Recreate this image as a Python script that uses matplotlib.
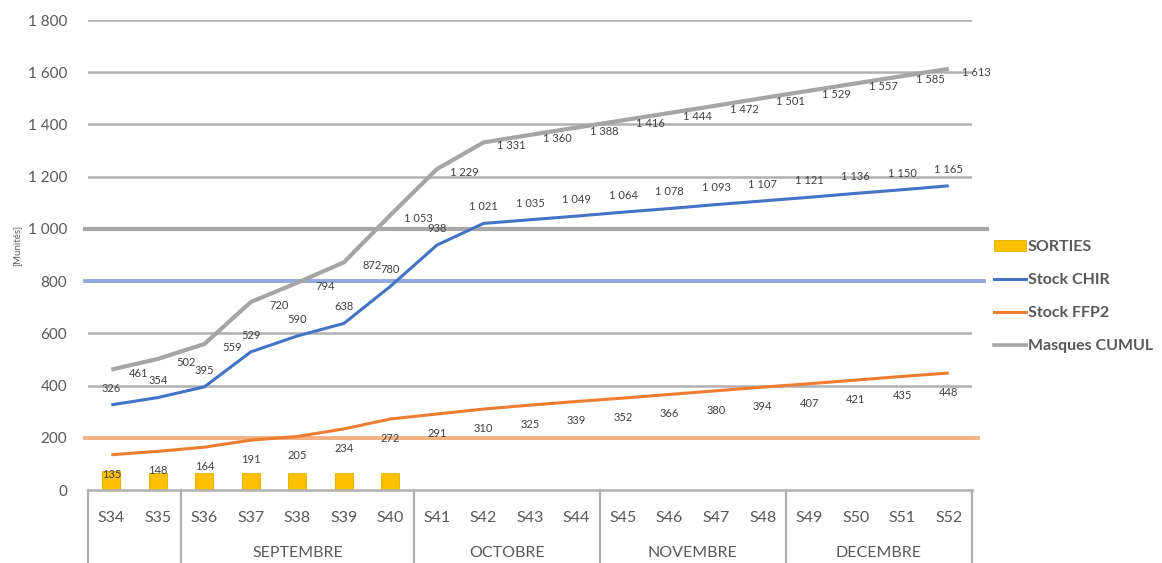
import matplotlib
matplotlib.use("Agg")
import matplotlib.pyplot as plt
import matplotlib.transforms as mtransforms
from matplotlib.patches import Patch
from matplotlib.lines import Line2D
import numpy as np

plt.rcParams['font.family'] = ['Lato', 'DejaVu Sans']

# --- data -------------------------------------------------------------
weeks = ["S34", "S35", "S36", "S37", "S38", "S39", "S40", "S41", "S42", "S43",
         "S44", "S45", "S46", "S47", "S48", "S49", "S50", "S51", "S52"]
months = ["", "SEPTEMBRE", "OCTOBRE", "NOVEMBRE", "DECEMBRE"]
month_sizes = [2, 5, 4, 4, 4]

sorties = [74, 64, 64, 64, 64, 64, 64]
stock_chir = [326, 354, 395, 529, 590, 638, 780, 938, 1021, 1035, 1049, 1064,
              1078, 1093, 1107, 1121, 1136, 1150, 1165]
stock_ffp2 = [135, 148, 164, 191, 205, 234, 272, 291, 310, 325, 339, 352,
              366, 380, 394, 407, 421, 435, 448]
masques_cumul = [461, 502, 559, 720, 794, 872, 1053, 1229, 1331, 1360, 1388,
                 1416, 1444, 1472, 1501, 1529, 1557, 1585, 1613]

seuil_cumul = 1000
seuil_chir = 800
seuil_ffp2 = 200

yticks = [0, 200, 400, 600, 800, 1000, 1200, 1400, 1600, 1800]

# --- colours ------------------------------------------------------------
C_BLUE = "#4472C4"
C_ORANGE = "#ED7D31"
C_GRAY = "#A5A5A5"
C_YELLOW = "#FFC000"
C_TEXT = "#595959"
C_LABEL = "#404040"
C_GRID = "#B0B0B0"


def fmt(v):
    return f"{v:,}".replace(",", " ")


fig = plt.figure(figsize=(11.62, 5.63), dpi=100)
W, H = 1162, 563
ax = fig.add_axes([88 / W, 73 / H, (972 - 88) / W, 470 / H])

x = np.arange(len(weeks))
ax.set_xlim(-0.5, len(weeks) - 0.5)
ax.set_ylim(0, 1800)

# horizontal grid
for t in yticks[1:]:
    ax.axhline(t, color=C_GRID, lw=1.8, zorder=0)

# threshold lines, running slightly past the plot area
trans_h = mtransforms.blended_transform_factory(ax.transAxes, ax.transData)
ax.plot([-0.003, 1.017], [seuil_cumul] * 2, color="#A8A8A8", lw=3.0,
        transform=trans_h, clip_on=False, zorder=1)
ax.plot([-0.003, 1.014], [seuil_chir] * 2, color="#8FAADC", lw=2.8,
        transform=trans_h, clip_on=False, zorder=1)
ax.plot([-0.003, 1.007], [seuil_ffp2] * 2, color="#F4B183", lw=2.8,
        transform=trans_h, clip_on=False, zorder=1)

# bars
ax.bar(x[:len(sorties)], sorties, width=0.39, color=C_YELLOW,
       edgecolor="#E3AC00", linewidth=0.6, zorder=2)

# lines
ax.plot(x, masques_cumul, color=C_GRAY, lw=3.0, zorder=3,
        solid_capstyle="butt")
ax.plot(x, stock_chir, color=C_BLUE, lw=2.2, zorder=4, solid_capstyle="butt")
ax.plot(x, stock_ffp2, color=C_ORANGE, lw=2.2, zorder=4,
        solid_capstyle="butt")

# data labels
lab_kw = dict(fontsize=8, color=C_LABEL, ha="center", va="center",
              textcoords="offset points", zorder=6)
for xi, v in zip(x, stock_chir):
    ax.annotate(fmt(v), (xi, v), xytext=(0, 12), **lab_kw)
for xi, v in zip(x, stock_ffp2):
    ax.annotate(fmt(v), (xi, v), xytext=(0, -14), **lab_kw)
for xi, v in zip(x, masques_cumul):
    ax.annotate(fmt(v), (xi, v), xytext=(20, -2.5), **lab_kw)

# axes styling
for s in ["top", "right", "left"]:
    ax.spines[s].set_visible(False)
ax.spines["bottom"].set_color(C_GRID)
ax.spines["bottom"].set_linewidth(1.8)
ax.set_yticks(yticks)
ax.set_yticklabels([fmt(t) for t in yticks], fontsize=11, color=C_TEXT)
ax.tick_params(axis="y", length=0, pad=15)
ax.set_xticks([])

# two-level category axis (weeks / months)
trans_x = mtransforms.blended_transform_factory(ax.transData, ax.transAxes)
bottom = -73 / 470
for xi, w in zip(x, weeks):
    ax.text(xi, -0.06, w, transform=trans_x, ha="center", va="center",
            fontsize=11.5, color=C_TEXT, clip_on=False)

edges = np.concatenate([[0], np.cumsum(month_sizes)]) - 0.5
for e in edges:
    ax.plot([e, e], [0, bottom], transform=trans_x, color=C_GRID, lw=1.6,
            clip_on=False, zorder=1)
for i, m in enumerate(months):
    if m:
        ctr = (edges[i] + edges[i + 1]) / 2
        ax.text(ctr, -0.134, m, transform=trans_x, ha="center", va="center",
                fontsize=11.5, color=C_TEXT, clip_on=False)

# axis title
fig.text(17 / W, 1 - 245 / H, "[Munités]", rotation=90, ha="center",
         va="center", fontsize=7, color=C_TEXT)

# legend
handles = [
    Patch(facecolor=C_YELLOW, edgecolor="#E3AC00", linewidth=0.6),
    Line2D([], [], color=C_BLUE, lw=2.2),
    Line2D([], [], color=C_ORANGE, lw=2.2),
    Line2D([], [], color=C_GRAY, lw=2.6),
]
labels = ["SORTIES", "Stock CHIR", "Stock FFP2", "Masques CUMUL"]
leg = fig.legend(handles, labels, loc="upper left",
                 bbox_to_anchor=(994 / W, 1 - 240 / H), frameon=False,
                 handlelength=2.0, handletextpad=0.1,
                 labelspacing=1.18, borderpad=0, borderaxespad=0,
                 prop={"weight": "bold", "size": 11.5})
for t in leg.get_texts():
    t.set_color(C_TEXT)

fig.savefig("out.png", dpi=100, facecolor="white")
